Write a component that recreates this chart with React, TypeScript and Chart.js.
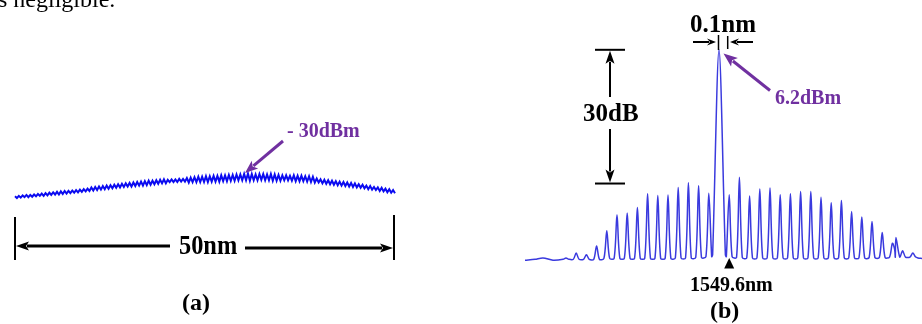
import React, { useEffect, useRef } from "react";
import { Chart, registerables } from "chart.js";

Chart.register(...registerables);

// ---------- Panel (a): broadband ASE-like spectrum, 50 nm span ----------
const spectrumAStartNm = 1525;
const spectrumAEndNm = 1575;
const spectrumADbm = [
  -35.0, -35.4, -34.9, -35.3, -34.8, -35.2, -34.7, -35.2, -34.7, -35.1, -34.6, -35.0, -34.5, -34.9, -34.4, -34.9, -34.3, -34.8, -34.2, -34.7,
  -34.1, -34.6, -34.0, -34.6, -33.9, -34.5, -33.8, -34.4, -33.8, -34.3, -33.7, -34.2, -33.6, -34.1, -33.5, -34.0, -33.4, -33.9, -33.3, -33.8,
  -33.0, -33.7, -32.9, -33.6, -32.8, -33.5, -32.7, -33.4, -32.6, -33.3, -32.5, -33.2, -32.4, -33.1, -32.3, -33.0, -32.2, -32.9, -32.1, -32.8,
  -32.0, -32.8, -31.9, -32.7, -31.8, -32.6, -31.7, -32.6, -31.6, -32.5, -31.5, -32.4, -31.5, -32.3, -31.4, -32.2, -31.3, -32.1, -31.2, -32.1,
  -31.3, -31.8, -31.2, -31.8, -31.2, -31.8, -31.1, -31.7, -31.1, -31.7, -30.9, -31.9, -30.8, -31.8, -30.7, -31.8, -30.6, -31.8, -30.6, -31.8,
  -30.5, -31.8, -30.5, -31.7, -30.4, -31.7, -30.4, -31.7, -30.3, -31.6, -30.3, -31.6, -30.2, -31.5, -30.2, -31.5, -30.1, -31.4, -30.1, -31.4,
  -30.0, -31.4, -29.9, -31.5, -30.0, -31.4, -30.1, -31.4, -30.0, -31.3, -30.0, -31.4, -30.1, -31.4, -30.0, -31.5, -30.1, -31.5, -30.2, -31.5,
  -30.3, -31.4, -30.3, -31.4, -30.4, -31.5, -30.3, -31.6, -30.4, -31.6, -30.4, -31.6, -30.5, -31.7, -30.5, -31.8, -30.6, -31.9, -31.0, -31.9,
  -31.2, -32.1, -31.3, -32.2, -31.4, -32.3, -31.5, -32.4, -31.6, -32.5, -31.7, -32.6, -31.8, -32.7, -31.9, -32.8, -32.0, -32.9, -32.1, -33.0,
  -32.3, -33.1, -32.4, -33.2, -32.6, -33.4, -32.7, -33.5, -32.9, -33.6, -33.0, -33.8, -33.1, -33.9, -33.3, -34.1, -33.4, -34.2, -33.6, -34.3,
];
const spectrumAYMin = -38.08;
const spectrumAYMax = -24.6;

// ---------- Panel (b): comb spectrum ----------
const combCenterNm = 1549.44;
const combSpacingNm = 0.16;
const combOrders = [-15, -14, -13, -12, -11, -10, -9, -8, -7, -6, -5, -4, -3, -2, -1, 0, 1, 2, 3, 4, 5, 6, 7, 8, 9, 10, 11, 12, 13, 14, 15, 16, 17, 18, 19];
const combPeakDbm = [
  -40.5, -39.4, -39.8, -37.8, -34.4, -30.8, -30.4, -29.2, -26.1, -26.5, -26.4, -24.7, -23.6, -24.3, -26.0,
  6.2,
  -26.3, -22.4, -26.6, -25.0, -24.8, -26.3, -26.1, -25.6, -25.6, -26.9, -28.1, -27.6, -30.1, -31.3, -32.3, -34.8, -37.2, -38.9, -39.4,
];
const combFloorDbm = [
  -40.8, -40.8, -40.8, -40.8, -40.6, -40.6, -40.6, -40.6, -40.6, -40.6, -40.6, -40.5, -40.5, -40.4, -40.2,
  -39.8,
  -40.2, -40.4, -40.5, -40.5, -40.5, -40.5, -40.5, -40.5, -40.5, -40.5, -40.5, -40.5, -40.5, -40.5, -40.4, -40.4, -40.3, -40.3, -40.3,
];
const satelliteNm = [1552.215];
const satelliteDbm = [-35.9];
const leadBaseNm = [1546.397, 1546.554, 1546.679, 1546.836];
const leadBaseDbm = [-41.0, -40.8, -40.5, -41.0];
const tailBaseNm = [1552.56, 1552.624];
const tailBaseDbm = [-40.5, -40.6];
const markerNm = 1549.6;
const markerLabel = "1549.6nm";
const peakLabel = "6.2dBm";
const spanLabel = "30dB";
const spanDb = 30;
const combXMin = 1546.397;
const combXMax = 1552.624;
const combYMin = -43.2;
const combYMax = 8.4;

const FONT = '"Liberation Serif", "Times New Roman", Times, serif';
const PURPLE = "#7030a0";

function arrow(
  ctx: CanvasRenderingContext2D,
  x1: number, y1: number, x2: number, y2: number,
  color: string, lw: number, headLen: number, headHalf: number
) {
  const ang = Math.atan2(y2 - y1, x2 - x1);
  const bx = x2 - headLen * Math.cos(ang);
  const by = y2 - headLen * Math.sin(ang);
  ctx.save();
  ctx.strokeStyle = color;
  ctx.fillStyle = color;
  ctx.lineWidth = lw;
  ctx.lineCap = "butt";
  ctx.beginPath();
  ctx.moveTo(x1, y1);
  ctx.lineTo(bx + Math.cos(ang) * 2, by + Math.sin(ang) * 2);
  ctx.stroke();
  ctx.beginPath();
  ctx.moveTo(x2, y2);
  ctx.lineTo(bx + headHalf * Math.sin(ang), by - headHalf * Math.cos(ang));
  ctx.lineTo(bx + Math.cos(ang) * 3, by + Math.sin(ang) * 3);
  ctx.lineTo(bx - headHalf * Math.sin(ang), by + headHalf * Math.cos(ang));
  ctx.closePath();
  ctx.fill();
  ctx.restore();
}

function line(ctx: CanvasRenderingContext2D, x1: number, y1: number, x2: number, y2: number, lw: number, color = "#000") {
  ctx.save();
  ctx.strokeStyle = color;
  ctx.lineWidth = lw;
  ctx.beginPath();
  ctx.moveTo(x1, y1);
  ctx.lineTo(x2, y2);
  ctx.stroke();
  ctx.restore();
}

const annotA = {
  id: "annotA",
  afterDraw(chart: any) {
    const ctx = chart.ctx as CanvasRenderingContext2D;
    line(ctx, 15, 217, 15, 260, 2);
    line(ctx, 394, 215, 394, 260, 2);
    arrow(ctx, 170, 246, 16, 246, "#000", 3, 13, 4.5);
    arrow(ctx, 245, 248, 393, 248, "#000", 3, 13, 4.5);
    arrow(ctx, 283, 141, 245, 173, PURPLE, 3, 13, 5);
  },
};

const annotB = {
  id: "annotB",
  afterDraw(chart: any) {
    const ctx = chart.ctx as CanvasRenderingContext2D;
    const ys = chart.scales.y;
    const xs = chart.scales.x;
    const peak = Math.max(...combPeakDbm);
    const yTop = ys.getPixelForValue(peak);
    const yBot = ys.getPixelForValue(peak - spanDb);
    // 30 dB bracket
    line(ctx, 595, yTop, 625, yTop, 2);
    line(ctx, 595, yBot, 625, yBot, 2);
    arrow(ctx, 610, 97, 610, yTop + 1, "#000", 2, 13, 4.5);
    arrow(ctx, 610, 129, 610, yBot - 1, "#000", 2, 13, 4.5);
    // 0.1 nm markers
    line(ctx, 718.5, 35, 718.5, 50, 1.5);
    line(ctx, 727.7, 36, 727.7, 49, 1.5);
    arrow(ctx, 693, 42, 716, 42, "#000", 2, 9, 3.5);
    arrow(ctx, 753, 42, 730, 42, "#000", 2, 9, 3.5);
    // purple arrow to peak
    arrow(ctx, 770, 90.5, 723.5, 53.5, PURPLE, 3, 14, 5.5);
    // wavelength marker triangle
    const mx = xs.getPixelForValue(markerNm);
    ctx.save();
    ctx.fillStyle = "#000";
    ctx.beginPath();
    ctx.moveTo(mx, 258);
    ctx.lineTo(mx + 5, 268.5);
    ctx.lineTo(mx - 5, 268.5);
    ctx.closePath();
    ctx.fill();
    ctx.restore();
  },
};

function Label(props: { text: string; x: number; baseline: number; size: number; color?: string; weight?: string; sx?: number }) {
  const { text, x, baseline, size, color = "#000", weight = "bold", sx = 1 } = props;
  return (
    <div
      style={{
        position: "absolute",
        left: x,
        top: baseline - 0.8375 * size,
        fontFamily: FONT,
        fontSize: size,
        lineHeight: `${size}px`,
        fontWeight: weight as any,
        color,
        whiteSpace: "nowrap",
        transform: sx !== 1 ? `scaleX(${sx})` : undefined,
        transformOrigin: "left top",
        zIndex: 3,
      }}
    >
      {text}
    </div>
  );
}

export default function App() {
  const refA = useRef<HTMLCanvasElement>(null);
  const refB = useRef<HTMLCanvasElement>(null);

  useEffect(() => {
    const n = spectrumADbm.length;
    const labelsA = spectrumADbm.map((_, i) => (spectrumAStartNm + (i * (spectrumAEndNm - spectrumAStartNm)) / (n - 1)).toFixed(2));
    const chartA = new Chart(refA.current!, {
      type: "line",
      data: {
        labels: labelsA,
        datasets: [
          {
            data: spectrumADbm,
            borderColor: "#0b0bf0",
            borderWidth: 2,
            pointRadius: 0,
            tension: 0,
            fill: false,
          },
        ],
      },
      options: {
        responsive: false,
        animation: false,
        events: [],
        layout: { padding: { left: 15, right: 527, top: 150, bottom: 114 } },
        plugins: { legend: { display: false }, tooltip: { enabled: false } },
        scales: {
          x: { display: false, offset: false },
          y: { display: false, min: spectrumAYMin, max: spectrumAYMax },
        },
      },
      plugins: [annotA],
    });

    const pts: { x: number; y: number }[] = [];
    leadBaseNm.forEach((x, i) => pts.push({ x, y: leadBaseDbm[i] }));
    combOrders.forEach((k, i) => {
      const c = combCenterNm + k * combSpacingNm;
      const w = k === 0 ? 0.1 : 0.045;
      pts.push({ x: c - w, y: combFloorDbm[i] });
      pts.push({ x: c, y: combPeakDbm[i] });
      pts.push({ x: c + w, y: combFloorDbm[i] });
    });
    satelliteNm.forEach((x, i) => {
      pts.push({ x: x - 0.02, y: -38.6 });
      pts.push({ x, y: satelliteDbm[i] });
    });
    tailBaseNm.forEach((x, i) => pts.push({ x, y: tailBaseDbm[i] }));
    pts.sort((a, b) => a.x - b.x);

    const chartB = new Chart(refB.current!, {
      type: "line",
      data: {
        datasets: [
          {
            data: pts,
            borderColor: "#3a3ade",
            borderWidth: 1.5,
            pointRadius: 0,
            tension: 0.3,
            fill: false,
          },
        ],
      },
      options: {
        responsive: false,
        animation: false,
        events: [],
        layout: { padding: { left: 525, right: 0, top: 40, bottom: 54 } },
        plugins: { legend: { display: false }, tooltip: { enabled: false } },
        scales: {
          x: { type: "linear", display: false, min: combXMin, max: combXMax },
          y: { display: false, min: combYMin, max: combYMax },
        },
      },
      plugins: [annotB],
    });

    return () => {
      chartA.destroy();
      chartB.destroy();
    };
  }, []);

  return (
    <div style={{ position: "absolute", left: 0, top: 0, width: 922, height: 324, overflow: "hidden", background: "#fff" }}>
      <canvas ref={refA} width={922} height={324} style={{ position: "absolute", left: 0, top: 0, zIndex: 1 }} />
      <canvas ref={refB} width={922} height={324} style={{ position: "absolute", left: 0, top: 0, zIndex: 2 }} />
      <Label text="s negligible." x={-2} baseline={7.3} size={24} weight="normal" />
      <Label text="- 30dBm" x={287} baseline={137} size={20} color={PURPLE} />
      <Label text="50nm" x={179} baseline={254.3} size={28} sx={0.87} />
      <Label text="(a)" x={182} baseline={310} size={24} />
      <Label text="0.1nm" x={690} baseline={31.7} size={25} />
      <Label text={spanLabel} x={583} baseline={121} size={25} />
      <Label text={peakLabel} x={775} baseline={104} size={20} color={PURPLE} />
      <Label text={markerLabel} x={690} baseline={291} size={20} />
      <Label text="(b)" x={710} baseline={318} size={24} />
    </div>
  );
}
